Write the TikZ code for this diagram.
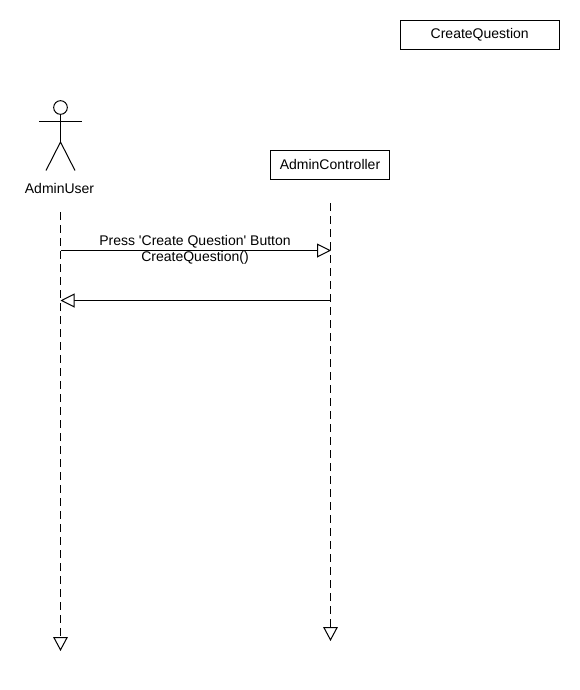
\documentclass[tikz,border=0pt]{standalone}
\usepackage{fontspec}
\setmainfont{Liberation Sans}[Ligatures=TeXOff]
\usetikzlibrary{arrows.meta}
\tikzset{
  x=0.75pt,y=-0.75pt,
  every node/.style={font=\fontsize{10.5pt}{12pt}\selectfont,text=black},
  objbox/.style={draw=black,line width=0.75pt,fill=white,minimum height=21.75pt,inner sep=0pt},
  lifeline/.style={draw=black,line width=0.75pt,dash pattern=on 6pt off 3.75pt,
     -{Triangle[open,length=10.5pt,width=11pt,fill=white]}},
  message/.style={draw=black,line width=0.75pt,
     -{Triangle[open,length=10.5pt,width=10.5pt,fill=white]}},
  actorline/.style={draw=black,line width=0.75pt},
  msglabel/.style={inner sep=0pt,anchor=center}
}
\begin{document}
\begin{tikzpicture}
\useasboundingbox (0,0) rectangle (580,690);
\node[objbox,minimum width=119.25pt] (cq) at (479.75,35) {CreateQuestion};
\node[objbox,minimum width=89.25pt] (ac) at (330,164.75) {AdminController};
% actor
\node[draw=black,line width=0.75pt,circle,minimum size=10.25pt,inner sep=0pt] (head) at (60.5,107.5) {};
\coordinate (armL) at (39,121);
\coordinate (armR) at (82,121);
\coordinate (hip) at (60.5,142);
\coordinate (footL) at (46,170.5);
\coordinate (footR) at (75,170.5);
\draw[actorline] (head.south) -- (hip);
\draw[actorline] (armL) -- (armR);
\draw[actorline] (footL) -- (hip) -- (footR);
\node[inner sep=0pt] (user) at (59.5,188) {AdminUser};
% lifelines
\coordinate (uTop) at (60.5,212);
\coordinate (uEnd) at (60.5,651);
\coordinate (cTop) at (330.5,203);
\coordinate (cEnd) at (330.5,641);
\draw[lifeline] (uTop) -- (uEnd);
\draw[lifeline] (cTop) -- (cEnd);
% messages
\coordinate (m1a) at (60.5,250.5);
\coordinate (m1b) at (331,250.5);
\coordinate (m2a) at (330.5,300.5);
\coordinate (m2b) at (60.5,300.5);
\draw[message] (m1a) -- (m1b);
\draw[message] (m2a) -- (m2b);
\node[msglabel] (l1) at (195,241.5) {Press 'Create Question' Button};
\node[msglabel] (l2) at (195,257.5) {CreateQuestion()};
\end{tikzpicture}
\end{document}
